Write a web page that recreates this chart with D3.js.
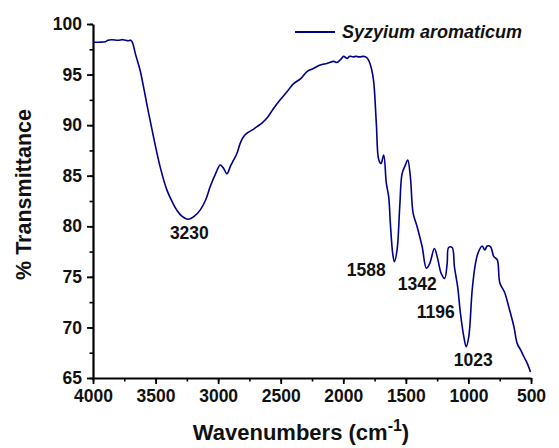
<!DOCTYPE html>
<html>
<head>
<meta charset="utf-8">
<script src="https://cdn.jsdelivr.net/npm/d3@7"></script>
<style>
  body { margin: 0; background: #fff; }
  svg { font-family: "Liberation Sans", Arial, sans-serif; }
</style>
</head>
<body>
<svg id="chart" width="559" height="448"></svg>
<script>
// FTIR spectrum
var wavenumbers = [4000, 3950, 3900, 3880, 3850, 3800, 3760, 3720, 3700, 3690, 3680, 3660, 3624, 3571, 3517, 3464, 3410, 3370, 3330, 3290, 3238, 3190, 3144, 3100, 3064, 3020, 2984, 2960, 2930, 2900, 2877, 2850, 2824, 2800, 2770, 2730, 2690, 2650, 2610, 2560, 2504, 2450, 2397, 2340, 2290, 2240, 2184, 2130, 2077, 2050, 2020, 1997, 1970, 1950, 1920, 1900, 1870, 1837, 1815, 1797, 1775, 1757, 1736, 1717, 1698, 1677, 1656, 1637, 1624, 1605, 1592, 1570, 1549, 1530, 1504, 1485, 1464, 1442, 1410, 1370, 1336, 1310, 1272, 1246, 1218, 1190, 1170, 1158, 1130, 1112, 1086, 1064, 1037, 1018, 997, 970, 944, 925, 890, 869, 850, 824, 797, 770, 749, 712, 677, 637, 610, 584, 557, 530, 504];
var transmittance = [98.2, 98.2, 98.25, 98.4, 98.45, 98.4, 98.45, 98.35, 98.4, 98.3, 98.0, 97.0, 95.45, 92.16, 88.86, 85.9, 83.6, 82.5, 81.6, 81.0, 80.7, 81.0, 81.6, 82.6, 83.9, 85.2, 86.06, 85.8, 85.2, 86.0, 86.55, 87.2, 88.2, 88.8, 89.2, 89.5, 89.85, 90.2, 90.7, 91.6, 92.5, 93.3, 94.1, 94.6, 95.3, 95.6, 95.95, 96.1, 96.3, 96.2, 96.5, 96.8, 96.6, 96.8, 96.75, 96.8, 96.75, 96.8, 96.7, 96.4, 95.6, 94.3, 90.2, 86.6, 86.2, 87.05, 84.25, 82.9, 80.3, 77.3, 76.5, 77.7, 81.9, 85.2, 86.05, 86.55, 84.9, 81.3, 79.96, 78.0, 75.85, 76.3, 77.8, 76.8, 75.35, 74.85, 76.3, 77.9, 77.9, 76.0, 74.0, 71.4, 69.1, 68.1, 69.1, 73.7, 76.3, 77.3, 78.05, 77.65, 78.05, 78.0, 77.0, 76.7, 74.4, 73.5, 72.0, 70.1, 68.4, 67.8, 67.1, 66.45, 65.6];

var xTicks = [4000, 3500, 3000, 2500, 2000, 1500, 1000, 500];
var yTicks = [65, 70, 75, 80, 85, 90, 95, 100];

// peak labels: text, wavenumber and %T where the label sits
var peakLabels = ["3230", "1588", "1342", "1196", "1023"];
var peakLabelWn = [3230, 1817, 1409, 1261, 961];
var peakLabelT = [78.74, 75.08, 73.7, 70.93, 66.2];

var seriesName = "Syzyium aromaticum";
var lineColor = "#00008B";

var svg = d3.select("#chart");

var x = d3.scaleLinear().domain([4000, 500]).range([93, 531]);
var y = d3.scaleLinear().domain([65, 100]).range([378, 24]);

// minor ticks first so the major ones sit on top
var xMinor = d3.range(4000, 499, -250);
var yMinor = d3.range(65, 100.1, 2.5);

svg.append("g")
   .attr("transform", "translate(0,378)")
   .call(d3.axisBottom(x).tickValues(xMinor).tickSize(3.5).tickFormat(""))
   .call(function(g) { g.select(".domain").remove(); g.selectAll("line").attr("stroke-width", 1.6); });

svg.append("g")
   .attr("transform", "translate(93,0)")
   .call(d3.axisLeft(y).tickValues(yMinor).tickSize(3.5).tickFormat(""))
   .call(function(g) { g.select(".domain").remove(); g.selectAll("line").attr("stroke-width", 1.6); });

var xAxis = svg.append("g")
   .attr("transform", "translate(0,378)")
   .call(d3.axisBottom(x).tickValues(xTicks).tickFormat(d3.format("d"))
           .tickSize(6).tickSizeOuter(0).tickPadding(6));

var yAxis = svg.append("g")
   .attr("transform", "translate(93,0)")
   .call(d3.axisLeft(y).tickValues(yTicks).tickFormat(d3.format("d"))
           .tickSize(6).tickSizeOuter(0).tickPadding(5));

[xAxis, yAxis].forEach(function(g) {
  g.select(".domain").attr("stroke-width", 2.2);
  g.selectAll(".tick line").attr("stroke-width", 1.8);
  g.selectAll(".tick text")
   .attr("font-size", 17.5)
   .attr("font-weight", "bold")
   .attr("fill", "#111")
   .attr("font-family", "Liberation Sans, Arial, sans-serif");
});

// spectrum
var line = d3.line()
             .x(function(d) { return x(d[0]); })
             .y(function(d) { return y(d[1]); })
             .curve(d3.curveCatmullRom.alpha(0.5));

svg.append("path")
   .datum(d3.zip(wavenumbers, transmittance))
   .attr("fill", "none")
   .attr("stroke", lineColor)
   .attr("stroke-width", 1.6)
   .attr("stroke-linejoin", "round")
   .attr("d", line);

// peak annotations
svg.selectAll("text.peak")
   .data(peakLabels)
   .enter()
   .append("text")
   .attr("class", "peak")
   .attr("x", function(d, i) { return x(peakLabelWn[i]); })
   .attr("y", function(d, i) { return y(peakLabelT[i]); })
   .attr("text-anchor", "middle")
   .attr("font-size", 17.5)
   .attr("font-weight", "bold")
   .attr("fill", "#111")
   .text(function(d) { return d; });

// legend
svg.append("line")
   .attr("x1", 295).attr("x2", 335)
   .attr("y1", 32).attr("y2", 32)
   .attr("stroke", lineColor)
   .attr("stroke-width", 1.8);

svg.append("text")
   .attr("x", 342).attr("y", 38)
   .attr("font-size", 18)
   .attr("font-weight", "bold")
   .attr("font-style", "italic")
   .attr("fill", "#111")
   .text(seriesName);

// axis titles
var xTitle = svg.append("text")
   .attr("x", 301).attr("y", 440)
   .attr("text-anchor", "middle")
   .attr("font-size", 22)
   .attr("font-weight", "bold")
   .attr("fill", "#111");
xTitle.append("tspan").text("Wavenumbers (cm");
xTitle.append("tspan").attr("dy", -9).attr("font-size", 16).text("-1");
xTitle.append("tspan").attr("dy", 9).text(")");

svg.append("text")
   .attr("transform", "translate(31,194.5) rotate(-90)")
   .attr("text-anchor", "middle")
   .attr("font-size", 21.5)
   .attr("font-weight", "bold")
   .attr("fill", "#111")
   .text("% Transmittance");
</script>
</body>
</html>
